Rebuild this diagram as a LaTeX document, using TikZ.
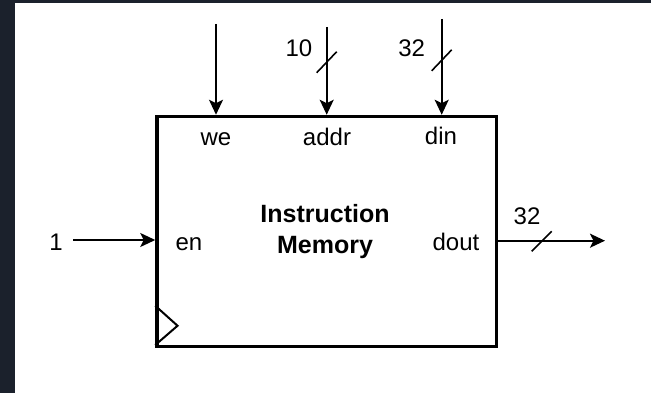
\documentclass[tikz,border=0pt]{standalone}
\usepackage{fontspec}
\setmainfont{Liberation Sans}
\usetikzlibrary{arrows.meta}
\definecolor{frame}{RGB}{27,33,44}
\begin{document}
\begin{tikzpicture}[x=1pt,y=-1pt,
  lbl/.style={font=\fontsize{24}{27}\selectfont, inner sep=0pt, anchor=base},
  title/.style={font=\fontsize{25}{31}\selectfont\bfseries, align=center, inner sep=0pt, anchor=base},
  wire/.style={line width=2pt, -{Stealth[length=15pt,width=14pt,inset=3.5pt]}},
  slash/.style={line width=1.6pt},
  block/.style={draw, line width=3.5pt, minimum width=339.5pt, minimum height=230pt, inner sep=0pt}]
  % page frame
  \fill[frame] (0,0) rectangle (651,393);
  \fill[white] (15,3) rectangle (651,393);
  \useasboundingbox (0,0) rectangle (651,393);

  % memory block
  \node[block] (mem) at (326.75,231.5) {};
  \node[title] (name) at (325,253.3) {Instruction\\Memory};

  % port labels
  \node[lbl] (we)   at (216,145.5) {we};
  \node[lbl] (addr) at (327,145.5) {addr};
  \node[lbl] (din)  at (441,145) {din};
  \node[lbl] (en)   at (189,250) {en};
  \node[lbl] (dout) at (456,250) {dout};

  % clock input triangle
  \draw[line width=2pt] ([shift={(0,-42.5)}]mem.south west) -- ([shift={(22.3,-22.5)}]mem.south west) -- ([shift={(0,-3.2)}]mem.south west);

  % input wires from the top
  \coordinate (weIn)   at (216,24);
  \coordinate (addrIn) at (326.7,27);
  \coordinate (dinIn)  at (441.7,19);
  \draw[wire] (weIn)   -- (weIn   |- mem.north);
  \draw[wire] (addrIn) -- (addrIn |- mem.north);
  \draw[wire] (dinIn)  -- (dinIn  |- mem.north);

  % enable input
  \coordinate (enIn) at (73,240);
  \node[lbl] (one) at (56,251) {1};
  \draw[wire] (enIn) -- (enIn -| mem.west);

  % data output
  \coordinate (doutEnd) at (605,240.7);
  \draw[wire] (doutEnd -| mem.east) -- (doutEnd);

  % bus width marks
  \coordinate (sA) at (326.7,62.2);
  \coordinate (sD) at (441.7,60.3);
  \coordinate (sO) at (541.7,241.3);
  \draw[slash] ([shift={(-10,10.5)}]sA) -- ([shift={(10,-10.5)}]sA);
  \draw[slash] ([shift={(-10,10.5)}]sD) -- ([shift={(10,-10.5)}]sD);
  \draw[slash] ([shift={(-10,10)}]sO) -- ([shift={(10,-10)}]sO);
  \node[lbl] (wA) at (299,56.5) {10};
  \node[lbl] (wD) at (411.7,57) {32};
  \node[lbl] (wO) at (527,225) {32};
\end{tikzpicture}
\end{document}
